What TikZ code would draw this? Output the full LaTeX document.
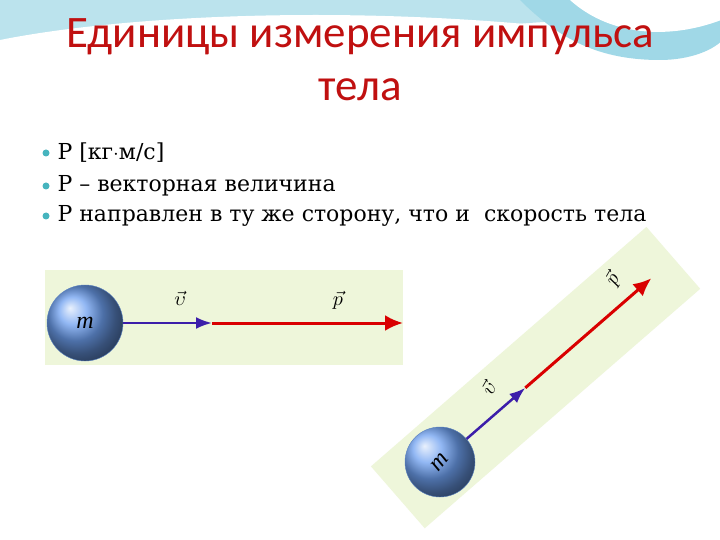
\documentclass[tikz,border=0pt]{standalone}
\usepackage{fontspec}
\usepackage{graphicx}
\usetikzlibrary{arrows.meta}
\setmainfont{Liberation Serif}
\newfontfamily\titlefont{Carlito}
\newfontfamily\bodyfont{DejaVu Serif}
\definecolor{titlered}{RGB}{192,16,16}
\definecolor{bandgreen}{RGB}{238,246,218}
\definecolor{swoosh}{RGB}{120,200,220}
\definecolor{bullteal}{RGB}{70,180,190}
\definecolor{ballblue}{RGB}{110,160,240}
\definecolor{velblue}{RGB}{60,30,170}
\newcommand{\veclab}[1]{\scalebox{2}{$\vec{#1}$}}
\tikzset{
  bulletdot/.style={circle,fill=bullteal,inner sep=0pt,minimum size=7pt},
  linetext/.style={anchor=west,font=\bodyfont\fontsize{22}{22}\selectfont},
  ball/.style={circle,inner sep=0pt,minimum size=#1,draw=ballblue!80!black,
    ball color=ballblue,font=\itshape\fontsize{24}{24}\selectfont},
  vel/.style={draw=velblue,line width=2.5pt},
  mom/.style={draw=red!85!black,line width=3pt},
}
\begin{document}
\begin{tikzpicture}[x=1pt,y=-1pt]%
\useasboundingbox (0,0) rectangle (720,540);%
% background swoosh
\fill[swoosh!50] (0,0) -- (720,0) -- (720,30) .. controls (600,10) and (300,0) .. (0,230) -- cycle;%
\fill[white] (0,40) .. controls (150,10) and (450,0) .. (720,50) -- (720,540) -- (0,540) -- cycle;%
\fill[swoosh!70] (700,0) .. controls (760,20) and (720,60) .. (660,60) .. controls (600,60) and (560,40) .. (520,0) -- cycle;%
\fill[white] (760,0) .. controls (700,40) and (620,45) .. (570,0) -- cycle;%
%
% title
\node[font=\titlefont\fontsize{45}{53}\selectfont,text=titlered,align=center] (title) at (360,60) {Единицы измерения импульса\\тела};%
%
% bullets
\foreach \y/\txt in {153/{P [кг$\cdot$м/с]},186/{P – векторная величина},216/{P направлен в ту же сторону, что и\ \ скорость тела}}{%
  \node[bulletdot] at (46,\y) {};%
  \node[linetext] at (54,\y) {\txt};%
}%
%
% horizontal case
\fill[bandgreen] (45,270) rectangle (403,365);%
\node[ball=76pt] (m1) at (85,323) {m};%
\coordinate (v1) at (212,323);%
\coordinate (p1) at (403,323);%
\draw[mom,-{Latex[length=18pt,width=16pt]}] (v1) -- (p1);%
\draw[vel,-{Latex[length=16pt,width=12pt]}] (m1) -- (v1);%
\node (vlab1) at (180,298) {\veclab{\upsilon}};%
\node (plab1) at (338,300) {\veclab{p}};%
%
% inclined case
\begin{scope}[shift={(440,462)},rotate=41]%
\fill[bandgreen] (-55,-42) rectangle (310,40);%
\node[ball=70pt,rotate=50] (m2) at (0,0) {m};%
\coordinate (v2) at (113,0);%
\coordinate (p2) at (280,0);%
\draw[mom,-{Latex[length=18pt,width=16pt]}] (v2) -- (p2);%
\draw[vel,-{Latex[length=16pt,width=12pt]}] (m2) -- (v2);%
\node[rotate=60] (vlab2) at (85,-24) {\veclab{\upsilon}};%
\node[rotate=60] (plab2) at (250,-24) {\veclab{p}};%
\end{scope}%
\end{tikzpicture}
\end{document}
